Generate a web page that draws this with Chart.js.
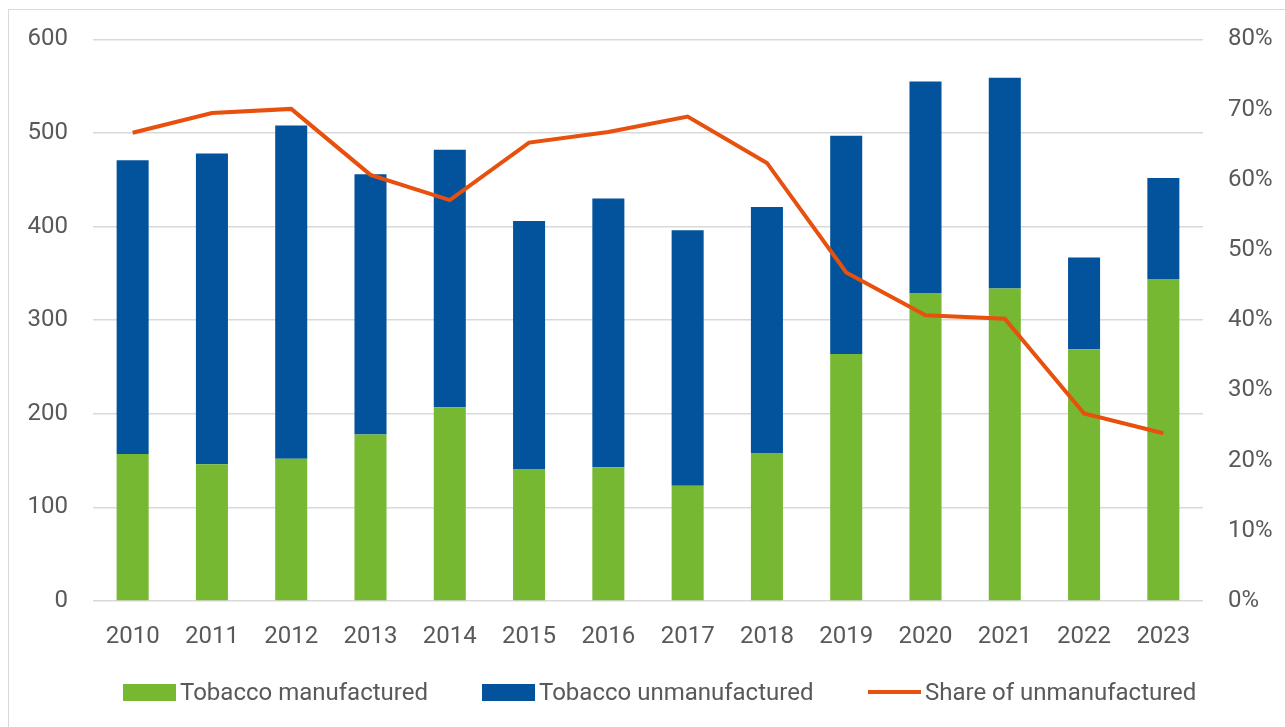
<!DOCTYPE html>
<html>
<head>
<meta charset="utf-8">
<script src="https://cdn.jsdelivr.net/npm/chart.js@4.4.1/dist/chart.umd.min.js"></script>
<style>
    body { margin: 0; background: #fff; }
    #wrap { position: relative; width: 1285px; height: 727px; overflow: hidden; font-family: Roboto, "Liberation Sans", sans-serif; }
    #frame { position: absolute; left: 8px; top: 9px; width: 1400px; height: 800px; border: 1px solid #d9d9d9; }
    #tobaccoChart { position: absolute; left: 0; top: 0; }
    .legend-item { position: absolute; top: 678px; height: 28px; display: flex; align-items: center; font-size: 24px; color: #595959; white-space: nowrap; }
    .legend-swatch { display: inline-block; margin-right: 4px; }
</style>
</head>
<body>
<div id="wrap">
    <div id="frame"></div>
    <canvas id="tobaccoChart" width="1285" height="727"></canvas>
    <div id="legend"></div>
</div>
<script>
// =========================
// Data
// =========================
const years = ['2010', '2011', '2012', '2013', '2014', '2015', '2016', '2017', '2018', '2019', '2020', '2021', '2022', '2023'];
const manufactured = [157, 146, 152, 178, 207, 141, 143, 123, 158, 264, 329, 334, 269, 344];
const unmanufactured = [314, 332, 356, 278, 275, 265, 287, 273, 263, 233, 226, 225, 98, 108];
const shareUnmanufactured = [0.667, 0.695, 0.701, 0.607, 0.571, 0.653, 0.668, 0.690, 0.624, 0.468, 0.407, 0.402, 0.267, 0.239];

const GREEN = '#76B831';
const BLUE = '#02529C';
const ORANGE = '#E8500E';
const GRID = '#D9D9D9';
const TEXT = '#595959';
const FONT = { family: 'Roboto, "Liberation Sans", sans-serif', size: 24 };

let ctx = document.getElementById('tobaccoChart').getContext('2d');

let tobaccoChart = new Chart(ctx, {
    type: 'bar',
    data: {
        labels: years,
        datasets: [
            {
                label: 'Tobacco manufactured',
                data: manufactured,
                backgroundColor: GREEN,
                yAxisID: 'y',
                stack: 'tobacco',
                order: 2,
                barPercentage: 1,
                categoryPercentage: 0.404
            },
            {
                label: 'Tobacco unmanufactured',
                data: unmanufactured,
                backgroundColor: BLUE,
                yAxisID: 'y',
                stack: 'tobacco',
                order: 2,
                barPercentage: 1,
                categoryPercentage: 0.404
            },
            {
                type: 'line',
                label: 'Share of unmanufactured',
                data: shareUnmanufactured,
                borderColor: ORANGE,
                backgroundColor: ORANGE,
                borderWidth: 4,
                pointRadius: 0,
                tension: 0,
                fill: false,
                yAxisID: 'y1',
                order: 0
            }
        ]
    },
    options: {
        responsive: false,
        devicePixelRatio: 1,
        animation: false,
        layout: {
            padding: { top: 39, bottom: 73, left: 0, right: 0 }
        },
        plugins: {
            legend: { display: false },
            tooltip: { enabled: false }
        },
        scales: {
            x: {
                stacked: true,
                grid: { display: false, drawTicks: false },
                border: { display: false },
                ticks: { color: TEXT, font: FONT, padding: 22, maxRotation: 0 },
                afterFit: function (scale) { scale.height = 53; }
            },
            y: {
                stacked: true,
                position: 'left',
                min: 0,
                max: 600,
                ticks: { stepSize: 100, color: TEXT, font: FONT, padding: 25 },
                grid: { color: GRID, lineWidth: 1.5, drawTicks: false },
                border: { display: false },
                afterFit: function (scale) { scale.width = 93; }
            },
            y1: {
                position: 'right',
                min: 0,
                max: 0.8,
                ticks: {
                    stepSize: 0.1,
                    color: TEXT,
                    font: FONT,
                    padding: 25,
                    callback: function (v) { return Math.round(v * 100) + '%'; }
                },
                grid: { display: false, drawTicks: false },
                border: { display: false },
                afterFit: function (scale) { scale.width = 82; }
            }
        }
    }
});

// HTML legend (Excel style: small gap between swatch and text)
let legendBox = document.getElementById('legend');
let legendX = [123, 482, 868];
tobaccoChart.data.datasets.forEach(function (ds, i) {
    let item = document.createElement('div');
    item.className = 'legend-item';
    item.style.left = legendX[i] + 'px';
    let sw = document.createElement('span');
    sw.className = 'legend-swatch';
    if (ds.type === 'line') {
        sw.style.width = '53px';
        sw.style.height = '4px';
        sw.style.background = ds.borderColor;
    } else {
        sw.style.width = '53px';
        sw.style.height = '17px';
        sw.style.background = ds.backgroundColor;
    }
    item.appendChild(sw);
    item.appendChild(document.createTextNode(ds.label));
    legendBox.appendChild(item);
});
</script>
</body>
</html>
